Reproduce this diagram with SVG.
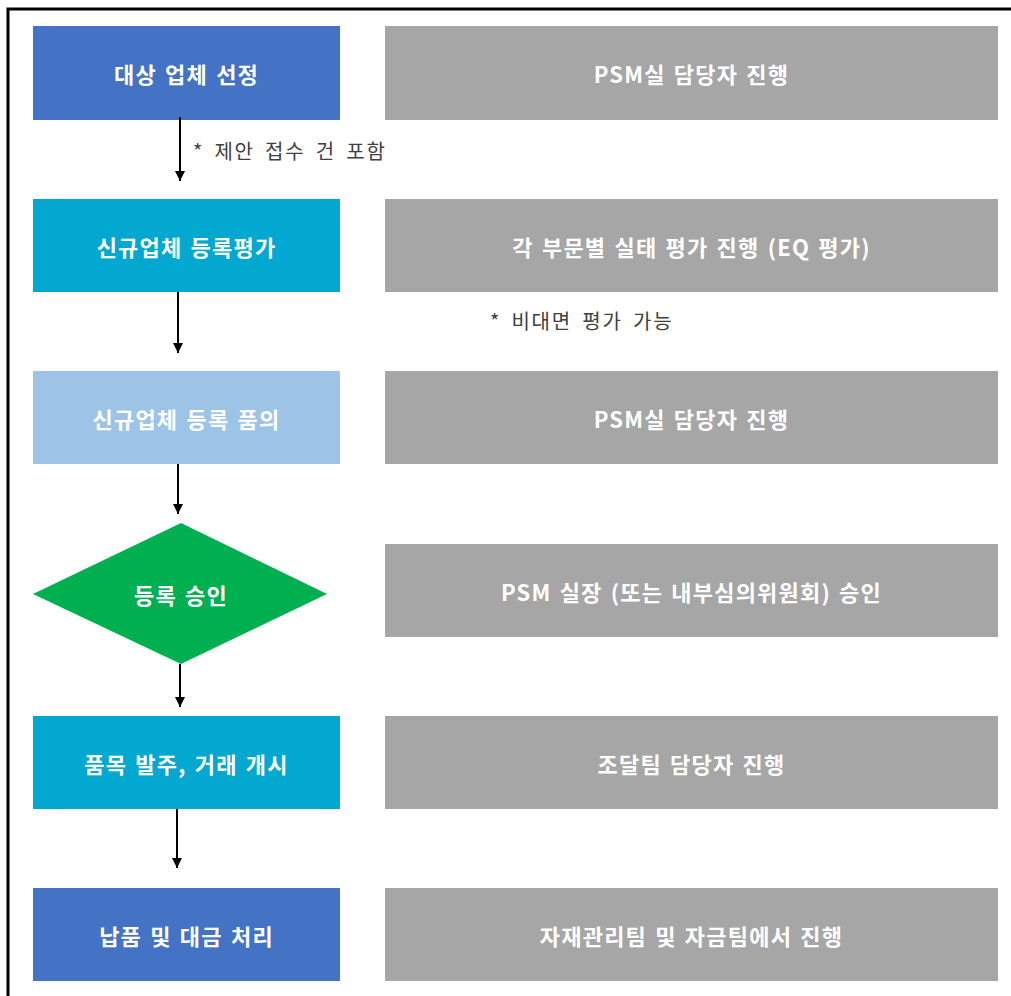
<svg xmlns="http://www.w3.org/2000/svg" width="1011" height="996" viewBox="0 0 1011 996">
<defs>
<marker id="ah" markerWidth="10" markerHeight="10" refX="10" refY="5" orient="auto" markerUnits="userSpaceOnUse" viewBox="0 0 10 10"><path d="M0,0 L10,5 L0,10 Z" fill="#000"/></marker>
</defs>
<style>
.t{font-family:"Noto Sans CJK KR","Noto Sans",sans-serif;font-weight:bold;font-size:22px;letter-spacing:1.2px;word-spacing:2px;fill:#fff;text-anchor:middle;dominant-baseline:central}
.n{font-family:"Noto Sans CJK KR","Noto Sans",sans-serif;font-size:20px;letter-spacing:1.8px;word-spacing:4px;fill:#404040}
.g{fill:#A6A6A6}
.c{stroke:#000;stroke-width:2;fill:none;marker-end:url(#ah)}
</style>
<rect width="1011" height="996" fill="#fff"/>
<path d="M8,996 V9 H1011" fill="none" stroke="#000" stroke-width="3"/>
<g id="n1"><rect x="33" y="26" width="307" height="94" fill="#4472C4"/><text class="t" x="186.5" y="73">대상 업체 선정</text></g>
<g id="r1"><rect class="g" x="385" y="26" width="613" height="94"/><text class="t" x="691.5" y="73">PSM실 담당자 진행</text></g>
<g id="n2"><rect x="33" y="199" width="307" height="93" fill="#02A8D0"/><text class="t" x="186.5" y="245.5">신규업체 등록평가</text></g>
<g id="r2"><rect class="g" x="385" y="199" width="613" height="93"/><text class="t" x="691.5" y="245.5">각 부문별 실태 평가 진행 (EQ 평가)</text></g>
<g id="n3"><rect x="33" y="371" width="307" height="93" fill="#9DC3E6"/><text class="t" x="186.5" y="417.5">신규업체 등록 품의</text></g>
<g id="r3"><rect class="g" x="385" y="371" width="613" height="93"/><text class="t" x="691.5" y="417.5">PSM실 담당자 진행</text></g>
<g id="n4"><polygon points="181,523 327,594 181,664 33,594" fill="#00B050"/><text class="t" x="181" y="594">등록 승인</text></g>
<g id="r4"><rect class="g" x="385" y="544" width="613" height="93"/><text class="t" x="691.5" y="590.5">PSM 실장 (또는 내부심의위원회) 승인</text></g>
<g id="n5"><rect x="33" y="716" width="307" height="93" fill="#02A8D0"/><text class="t" x="186.5" y="762.5">품목 발주, 거래 개시</text></g>
<g id="r5"><rect class="g" x="385" y="716" width="613" height="93"/><text class="t" x="691.5" y="762.5">조달팀 담당자 진행</text></g>
<g id="n6"><rect x="33" y="888" width="307" height="93" fill="#4472C4"/><text class="t" x="186.5" y="934.5">납품 및 대금 처리</text></g>
<g id="r6"><rect class="g" x="385" y="888" width="613" height="93"/><text class="t" x="691.5" y="934.5">자재관리팀 및 자금팀에서 진행</text></g>
<g id="connectors">
<line class="c" x1="180" y1="117" x2="180" y2="181"/>
<line class="c" x1="178" y1="292" x2="178" y2="353"/>
<line class="c" x1="178" y1="464" x2="178" y2="514"/>
<line class="c" x1="180" y1="664" x2="180" y2="707"/>
<line class="c" x1="177" y1="809" x2="177" y2="868"/>
</g>
<text class="n" x="193" y="159">* 제안 접수 건 포함</text>
<text class="n" x="490" y="329">* 비대면 평가 가능</text>
</svg>
